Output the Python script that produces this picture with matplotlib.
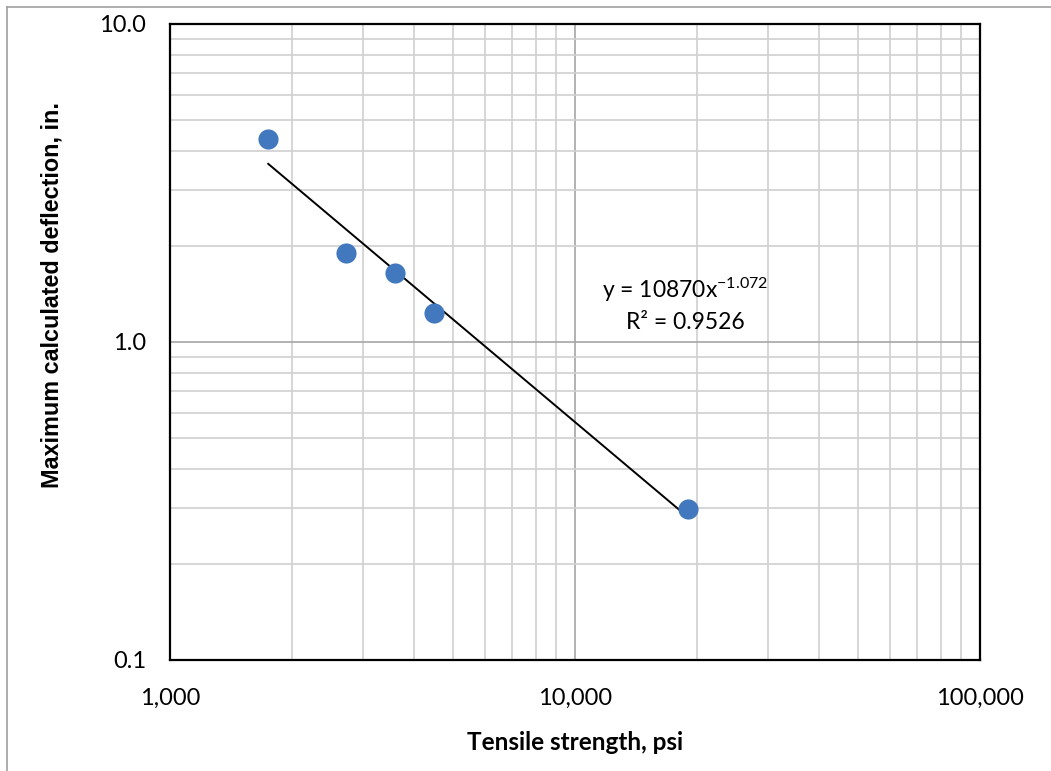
import numpy as np
import matplotlib
matplotlib.use("Agg")
import matplotlib.pyplot as plt
from matplotlib.ticker import FixedLocator, LogLocator, NullFormatter
from matplotlib.lines import Line2D

plt.rcParams["font.family"] = ["Lato", "DejaVu Sans"]
plt.rcParams["mathtext.fontset"] = "custom"
plt.rcParams["mathtext.rm"] = "Lato"
plt.rcParams["mathtext.it"] = "Lato:italic"

# Data
tensile_psi = [1748, 2720, 3600, 4486, 19010]
deflection_in = [4.36, 1.90, 1.65, 1.23, 0.298]

# Power trendline reported on the chart
fit_a = 10870
fit_b = -1.072
fit_r2 = 0.9526

x_ticks = [1000, 10000, 100000]
x_tick_labels = ["1,000", "10,000", "100,000"]
y_ticks = [0.1, 1.0, 10.0]
y_tick_labels = ["0.1", "1.0", "10.0"]

fig = plt.figure(figsize=(10.51, 7.71), dpi=100)
ax = fig.add_axes([170 / 1051, 1 - 660 / 771, 810 / 1051, 636 / 771])

ax.set_xscale("log")
ax.set_yscale("log")
ax.set_xlim(1000, 100000)
ax.set_ylim(0.1, 10)

# grid
ax.xaxis.set_major_locator(FixedLocator(x_ticks))
ax.yaxis.set_major_locator(FixedLocator(y_ticks))
ax.xaxis.set_minor_locator(LogLocator(base=10, subs=np.arange(2, 10)))
ax.yaxis.set_minor_locator(LogLocator(base=10, subs=np.arange(2, 10)))
ax.xaxis.set_minor_formatter(NullFormatter())
ax.yaxis.set_minor_formatter(NullFormatter())
ax.grid(which="minor", color="#d0d0d0", linewidth=1.2)
ax.grid(which="major", color="#a6a6a6", linewidth=1.2)
ax.set_axisbelow(True)

ax.set_xticks(x_ticks)
ax.set_xticklabels(x_tick_labels)
ax.set_yticks(y_ticks)
ax.set_yticklabels(y_tick_labels)
ax.tick_params(which="both", length=0, labelsize=17, colors="black")
ax.tick_params(axis="x", pad=20)
ax.tick_params(axis="y", pad=17)

for s in ax.spines.values():
    s.set_color("black")
    s.set_linewidth(1.6)

# trendline
xs = np.geomspace(min(tensile_psi), max(tensile_psi), 50)
ax.plot(xs, fit_a * xs ** fit_b, color="black", linewidth=1.4, zorder=3)

ax.plot(tensile_psi, deflection_in, "o", color="#4178be", markersize=14.5,
        markeredgewidth=0, zorder=4)

ax.text(0.636, 0.582, r"y = 10870x$^{-1.072}$", transform=ax.transAxes,
        ha="center", va="center", fontsize=16.5)
ax.text(0.636, 0.531, "R\u00b2 = %.4f" % fit_r2, transform=ax.transAxes,
        ha="center", va="center", fontsize=16.5)

ax.set_xlabel("Tensile strength, psi", fontsize=17.5, fontweight="bold", labelpad=16)
ax.set_ylabel("Maximum calculated deflection, in.", fontsize=16.8, fontweight="bold",
              family=["Liberation Sans", "DejaVu Sans"])
ax.yaxis.set_label_coords(-0.131, 0.574)

# outer chart border (top and left)
fig.add_artist(Line2D([7 / 1051, 1], [1 - 7 / 771, 1 - 7 / 771],
                      transform=fig.transFigure, color="#a0a0a0", linewidth=1.2))
fig.add_artist(Line2D([7 / 1051, 7 / 1051], [0, 1 - 7 / 771],
                      transform=fig.transFigure, color="#a0a0a0", linewidth=1.2))

fig.savefig("out.png", dpi=100)
